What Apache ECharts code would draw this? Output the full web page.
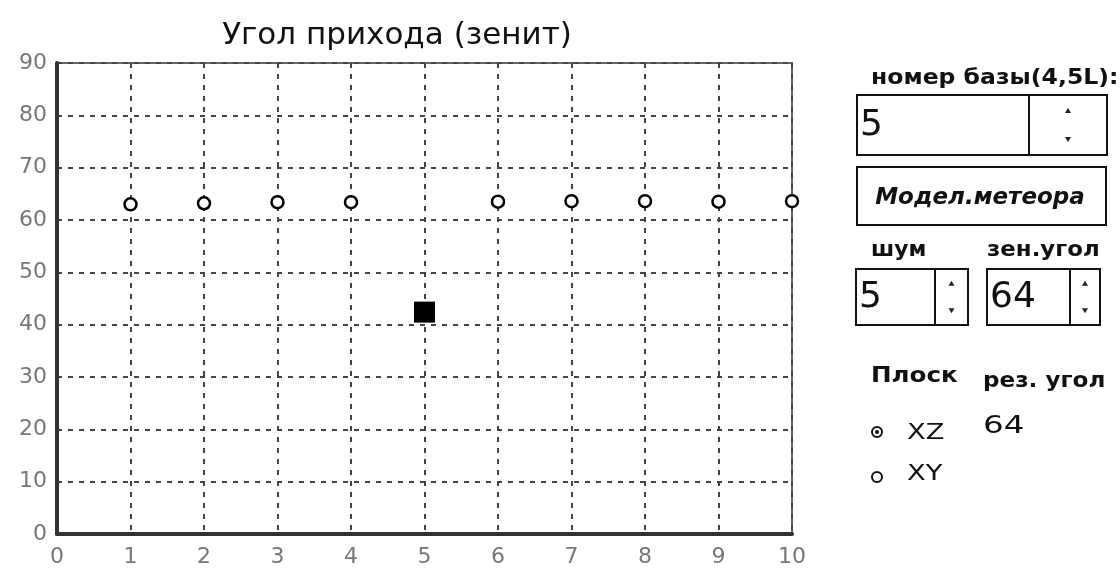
<!DOCTYPE html>
<html>
<head>
<meta charset="utf-8">
<script src="https://cdn.jsdelivr.net/npm/echarts@6/dist/echarts.min.js"></script>
<style>
html,body{margin:0;padding:0;background:#fff;}
#chart{width:1120px;height:572px;}
</style>
</head>
<body>
<div id="chart"></div>
<script>
// Data
var chartTitle = 'Угол прихода (зенит)';
var xTicks = [0,1,2,3,4,5,6,7,8,9,10];
var yTicks = [0,10,20,30,40,50,60,70,80,90];
var circleX = [1,2,3,4,6,7,8,9,10];
var circleY = [63.0,63.2,63.4,63.4,63.5,63.6,63.6,63.5,63.6];
var squareX = [5];
var squareY = [42.4];
// Panel texts
var baseLabel = 'номер базы(4,5L):';
var baseValue = '5';
var buttonText = 'Модел.метеора';
var noiseLabel = 'шум';
var zenLabel = 'зен.угол';
var noiseValue = '5';
var zenValue = '64';
var planeLabel = 'Плоск';
var resLabel = 'рез. угол';
var resValue = '64';
var radioXZ = 'XZ';
var radioXY = 'XY';

var chart = echarts.init(document.getElementById('chart'), null, {renderer:'canvas'});

function label(text, x, y, font, sx, extra) {
  var st = {text:text, x:0, y:0, font:font, fill:'#111', verticalAlign:'middle'};
  if (extra) for (var k in extra) st[k] = extra[k];
  return {type:'text', x:x, y:y, scaleX:sx || 1, style:st};
}

function spinner(x, y, w, h, sepX, value) {
  var ax = (sepX + x + w) / 2;
  return [
    {type:'rect', shape:{x:x, y:y, width:w, height:h}, style:{fill:'#fff', stroke:'#111', lineWidth:2}},
    {type:'line', shape:{x1:sepX, y1:y, x2:sepX, y2:y+h}, style:{stroke:'#111', lineWidth:2}},
    label(value, x+3, y+h/2+1, '36px "DejaVu Sans"', 1),
    {type:'polygon', shape:{points:[[ax-3, y+h*0.3],[ax+3, y+h*0.3],[ax, y+h*0.3-5]]}, style:{fill:'#222'}},
    {type:'polygon', shape:{points:[[ax-3, y+h*0.7],[ax+3, y+h*0.7],[ax, y+h*0.7+5]]}, style:{fill:'#222'}}
  ];
}

var pf = 'bold 21px "DejaVu Sans"';
var graphics = [
  label(baseLabel, 871, 79, pf, 1.12),
  {type:'rect', shape:{x:857, y:167, width:249, height:58}, style:{fill:'none', stroke:'#111', lineWidth:2}},
  label(buttonText, 980, 198, 'italic bold 23px "DejaVu Sans"', 1, {align:'center'}),
  label(noiseLabel, 871, 251, pf, 1.04),
  label(zenLabel, 987, 251, pf, 1.09),
  label(planeLabel, 871, 377, pf, 1.17),
  label(resLabel, 983, 382, pf, 1.1),
  label(resValue, 983, 426, '25px "DejaVu Sans"', 1.3),
  {type:'circle', shape:{cx:877, cy:432, r:5}, style:{fill:'#fff', stroke:'#111', lineWidth:2}},
  {type:'circle', shape:{cx:877, cy:432, r:2}, style:{fill:'#111'}},
  label(radioXZ, 907, 434, '21px "DejaVu Sans"', 1.3),
  {type:'circle', shape:{cx:877, cy:477, r:5}, style:{fill:'#fff', stroke:'#111', lineWidth:2}},
  label(radioXY, 907, 475, '21px "DejaVu Sans"', 1.3)
];
graphics = graphics.concat(spinner(857, 95, 250, 60, 1029, baseValue));
graphics = graphics.concat(spinner(856, 269, 112, 56, 935, noiseValue));
graphics = graphics.concat(spinner(987, 269, 113, 56, 1070, zenValue));

var circleData = circleX.map(function(x,i){return [x, circleY[i]];});
var squareData = squareX.map(function(x,i){return [x, squareY[i]];});

chart.setOption({
  animation:false,
  backgroundColor:'#fff',
  title:{text:chartTitle, left:392, top:15, textAlign:'center',
    textStyle:{fontFamily:'DejaVu Sans', fontSize:31, fontWeight:'normal', color:'#111'}},
  grid:{left:57, top:63, right:328, bottom:38, show:true, borderColor:'#666', borderWidth:2, backgroundColor:'transparent'},
  xAxis:{type:'value', min:0, max:10, interval:1,
    axisLine:{show:true, onZero:false, lineStyle:{color:'#333', width:4}},
    axisTick:{show:false},
    axisLabel:{color:'#777', fontSize:22, fontFamily:'DejaVu Sans', margin:12,
      formatter:function(v){return xTicks.indexOf(v)>=0 ? String(v) : '';}},
    splitLine:{show:true, lineStyle:{color:'#444', width:2, type:[5,6]}}},
  yAxis:{type:'value', min:0, max:90, interval:10,
    axisLine:{show:true, onZero:false, lineStyle:{color:'#333', width:4}},
    axisTick:{show:false},
    axisLabel:{color:'#777', fontSize:22, fontFamily:'DejaVu Sans', margin:10,
      formatter:function(v){return yTicks.indexOf(v)>=0 ? String(v) : '';}},
    splitLine:{show:true, lineStyle:{color:'#444', width:2, type:[5,6]}}},
  series:[
    {type:'scatter', data:circleData, symbol:'circle', symbolSize:12, clip:false,
      itemStyle:{color:'#fff', borderColor:'#000', borderWidth:2.5, opacity:1}, z:5},
    {type:'scatter', data:squareData, symbol:'rect', symbolSize:21,
      itemStyle:{color:'#000', opacity:1}, z:5}
  ],
  graphic:graphics
});
</script>
</body>
</html>
